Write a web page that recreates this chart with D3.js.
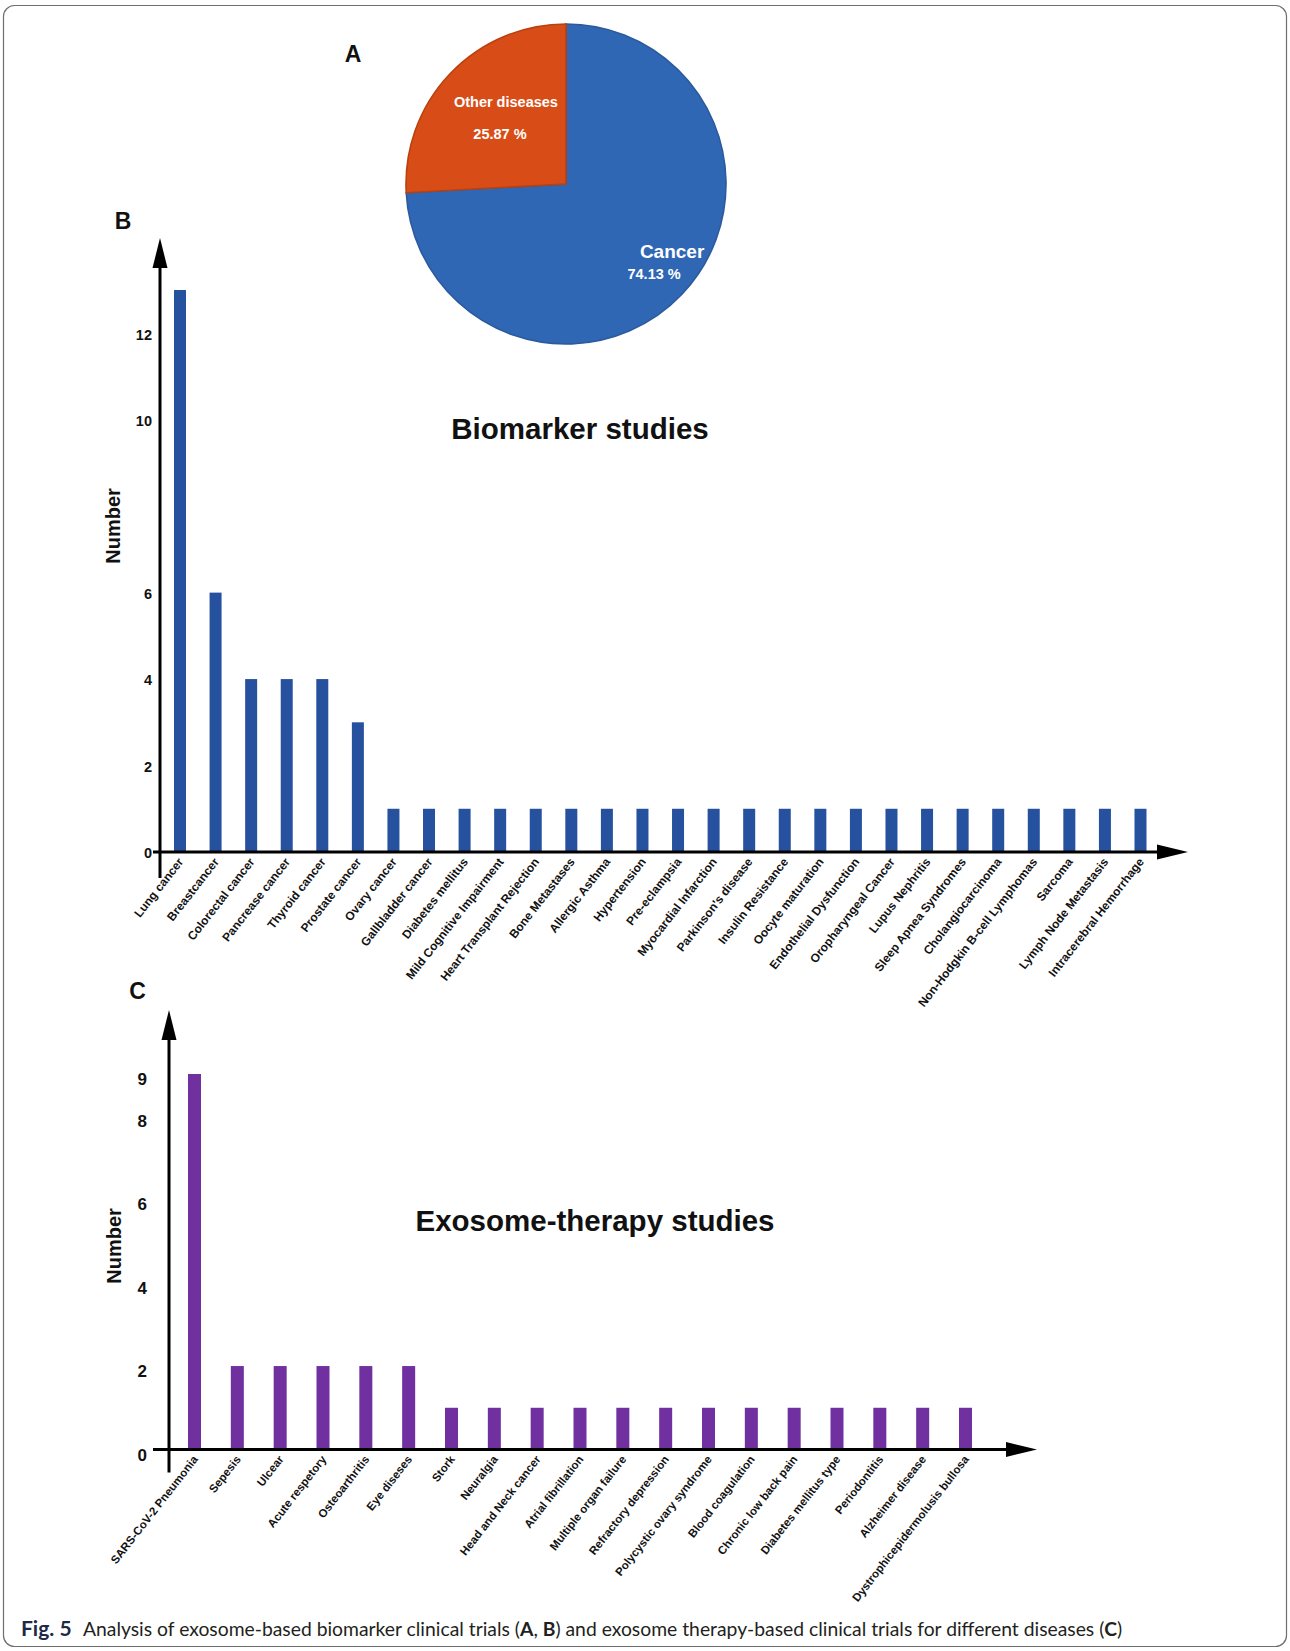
<!DOCTYPE html>
<html><head><meta charset="utf-8">
<script src="https://cdn.jsdelivr.net/npm/d3@7"></script>
<style>
body{margin:0;background:#fff;}
svg{display:block;}
text{font-family:"Liberation Sans",Arial,Helvetica,sans-serif;}
</style>
</head><body>
<svg id="chart" width="1290" height="1651"></svg>
<script>
// ---------- DATA ----------
const pieLabels = ["Cancer", "Other diseases"];
const pieValues = [74.13, 25.87];
const pieColors = ["#3067b4", "#d84d17"];
const pieStrokes = ["#2b5a9e", "#b9400f"];

const bCategories = ["Lung cancer","Breastcancer","Colorectal cancer","Pancrease cancer","Thyroid cancer","Prostate cancer","Ovary cancer","Gallbladder cancer","Diabetes mellitus","Mild Cognitive Impairment","Heart Transplant Rejection","Bone Metastases","Allergic Asthma","Hypertension","Pre-eclampsia","Myocardial Infarction","Parkinson's disease","Insulin Resistance","Oocyte maturation","Endothelial Dysfunction","Oropharyngeal Cancer","Lupus Nephritis","Sleep Apnea Syndromes","Cholangiocarcinoma","Non-Hodgkin B-cell Lymphomas","Sarcoma","Lymph Node Metastasis","Intracerebral Hemorrhage"];
const bValues = [13,6,4,4,4,3,1,1,1,1,1,1,1,1,1,1,1,1,1,1,1,1,1,1,1,1,1,1];
const bTicks = [0,2,4,6,10,12];

const cCategories = ["SARS-CoV-2 Pneumonia","Sepesis","Ulcear","Acute respetory","Osteoarthritis","Eye diseses","Stork","Neuralgia","Head and Neck cancer","Atrial fibrillation","Multiple organ failure","Refractory depression","Polycystic ovary syndrome","Blood coagulation","Chronic low back pain","Diabetes mellitus type","Periodontitis","Alzheimer disease","Dystrophicepidermolusis bullosa"];
const cValues = [9,2,2,2,2,2,1,1,1,1,1,1,1,1,1,1,1,1,1];
const cTicks = [0,2,4,6,8,9];

// ---------- DRAW ----------
const svg = d3.select("#chart");

// frame
svg.append("rect").attr("x",3.5).attr("y",5.5).attr("width",1283).attr("height",1641)
  .attr("rx",11).attr("fill","none").attr("stroke","#6e6e6e").attr("stroke-width",1.2);

// ---- Panel A: pie ----
const pieG = svg.append("g").attr("transform","translate(566,184)");
const R = 160;
const arcs = d3.pie().sort(null)(pieValues);
const arc = d3.arc().innerRadius(0).outerRadius(R);
pieG.selectAll("path.slice").data(arcs).join("path").attr("class","slice")
  .attr("d",arc).attr("fill",(d,i)=>pieColors[i]).attr("stroke",(d,i)=>pieStrokes[i]).attr("stroke-width",1.6);

function pieText(i, lines){
  const cen = d3.arc().innerRadius(0).outerRadius(R).centroid(arcs[i]);
  const g = pieG.append("g");
  lines.forEach(l=>{
    g.append("text").attr("x",cen[0]+l.dx).attr("y",cen[1]+l.dy)
      .attr("text-anchor","middle").attr("fill","#fff").attr("font-weight","bold")
      .attr("font-size",l.fs).text(l.t);
  });
}
pieText(1, [
  {t:pieLabels[1], dx:-2, dy:-22, fs:14.5},
  {t:(pieValues[1].toFixed(2))+" %", dx:-8, dy:10, fs:14.5}
]);
pieText(0, [
  {t:pieLabels[0], dx:48, dy:19, fs:19},
  {t:(pieValues[0].toFixed(2))+" %", dx:30, dy:40, fs:14.5}
]);

// panel letters
function letter(t,x,y){
  svg.append("text").attr("x",x).attr("y",y).attr("text-anchor","middle")
    .attr("font-weight","bold").attr("font-size",23).attr("fill","#111").text(t);
}
letter("A",353,62);
letter("B",123,229);
letter("C",137.5,999);

// arrow helpers
function vArrow(x, yTop, yBottom){
  svg.append("line").attr("x1",x).attr("x2",x).attr("y1",yBottom).attr("y2",yTop+26)
    .attr("stroke","#000").attr("stroke-width",3);
  svg.append("path").attr("d",`M${x},${yTop} L${x-7.5},${yTop+30} L${x+7.5},${yTop+30} Z`).attr("fill","#000");
}
function hArrow(y, xLeft, xRight){
  svg.append("line").attr("x1",xLeft).attr("x2",xRight-26).attr("y1",y).attr("y2",y)
    .attr("stroke","#000").attr("stroke-width",3);
  svg.append("path").attr("d",`M${xRight},${y} L${xRight-31},${y-7.5} L${xRight-31},${y+7.5} Z`).attr("fill","#000");
}

function barPanel(opt){
  const x = d3.scalePoint().domain(opt.categories).range(opt.xRange);
  const y = d3.scaleLinear().domain(opt.yDomain).range(opt.yRange);
  const g = svg.append("g");
  g.selectAll("rect.bar").data(opt.values).join("rect").attr("class","bar")
    .attr("x",(d,i)=>x(opt.categories[i])-opt.barW/2)
    .attr("y",d=>y(d)).attr("width",opt.barW).attr("height",d=>y(0)-y(d))
    .attr("fill",opt.color);
  const ax = d3.axisLeft(y).tickValues(opt.ticks).tickSize(0).tickPadding(opt.tickPad).tickFormat(d3.format("d"));
  const axG = svg.append("g").attr("transform",`translate(${opt.axisX},0)`).call(ax);
  axG.select(".domain").remove();
  axG.selectAll("text").style("font-family","'Liberation Sans',Arial,sans-serif")
    .attr("font-weight","bold").attr("font-size",opt.tickFs).attr("fill","#111")
    .attr("dy",opt.tickDy);
  vArrow(opt.axisX, opt.arrowTop, y(0)+opt.below);
  hArrow(y(0), opt.axisX-opt.left, opt.arrowRight);
  g.selectAll("text.cat").data(opt.categories).join("text").attr("class","cat")
    .attr("transform",d=>`translate(${x(d)+4},${y(0)+10}) rotate(-52)`)
    .attr("text-anchor","end").attr("font-weight","bold").attr("font-size",opt.catFs)
    .attr("fill","#111").text(d=>d);
  svg.append("text").attr("transform",`translate(${opt.ylabX},${opt.ylabY}) rotate(-90)`)
    .attr("text-anchor","middle").attr("font-weight","bold").attr("font-size",20)
    .attr("fill","#111").attr("dy","0.35em").text("Number");
  svg.append("text").attr("x",opt.titleX).attr("y",opt.titleY).attr("text-anchor","middle")
    .attr("font-weight","bold").attr("font-size",29.5).attr("fill","#111").text(opt.title);
}

barPanel({
  categories:bCategories, values:bValues, ticks:bTicks,
  xRange:[180,1140.5], yDomain:[0,13], yRange:[852,290],
  barW:12, color:"#25519e", axisX:160, tickPad:8, tickFs:14.5, tickDy:"0.4em",
  arrowTop:238, below:26, left:7, arrowRight:1188, catFs:12,
  ylabX:113, ylabY:526, title:"Biomarker studies", titleX:580, titleY:439
});

barPanel({
  categories:cCategories, values:cValues, ticks:cTicks,
  xRange:[194.5,965.5], yDomain:[0,9], yRange:[1449.5,1074],
  barW:13, color:"#7030a0", axisX:169, tickPad:22, tickFs:17, tickDy:"0.62em",
  arrowTop:1010, below:23, left:16, arrowRight:1037, catFs:11.5,
  ylabX:113.5, ylabY:1246, title:"Exosome-therapy studies", titleX:595, titleY:1231
});

// ---- caption ----
const capFont = "Lato, 'Open Sans', sans-serif";
const cap = svg.append("text").attr("y",1636).style("font-family",capFont).attr("fill","#231f20");
cap.append("tspan").attr("x",21).attr("font-weight","bold").attr("fill","#1c2a47").attr("font-size",21).text("Fig. 5");
const main = svg.append("text").attr("x",83).attr("y",1636).style("font-family",capFont).attr("fill","#231f20").attr("font-size",100);
const parts = [["Analysis of exosome-based biomarker clinical trials (",false],["A",true],[", ",false],["B",true],[") and exosome therapy-based clinical trials for different diseases (",false],["C",true],[")",false]];
parts.forEach(p=>main.append("tspan").attr("font-weight",p[1]?"bold":"normal").text(p[0]));
const w100 = main.node().getComputedTextLength();
main.attr("font-size", 100*1040/w100);
</script>
</body></html>
